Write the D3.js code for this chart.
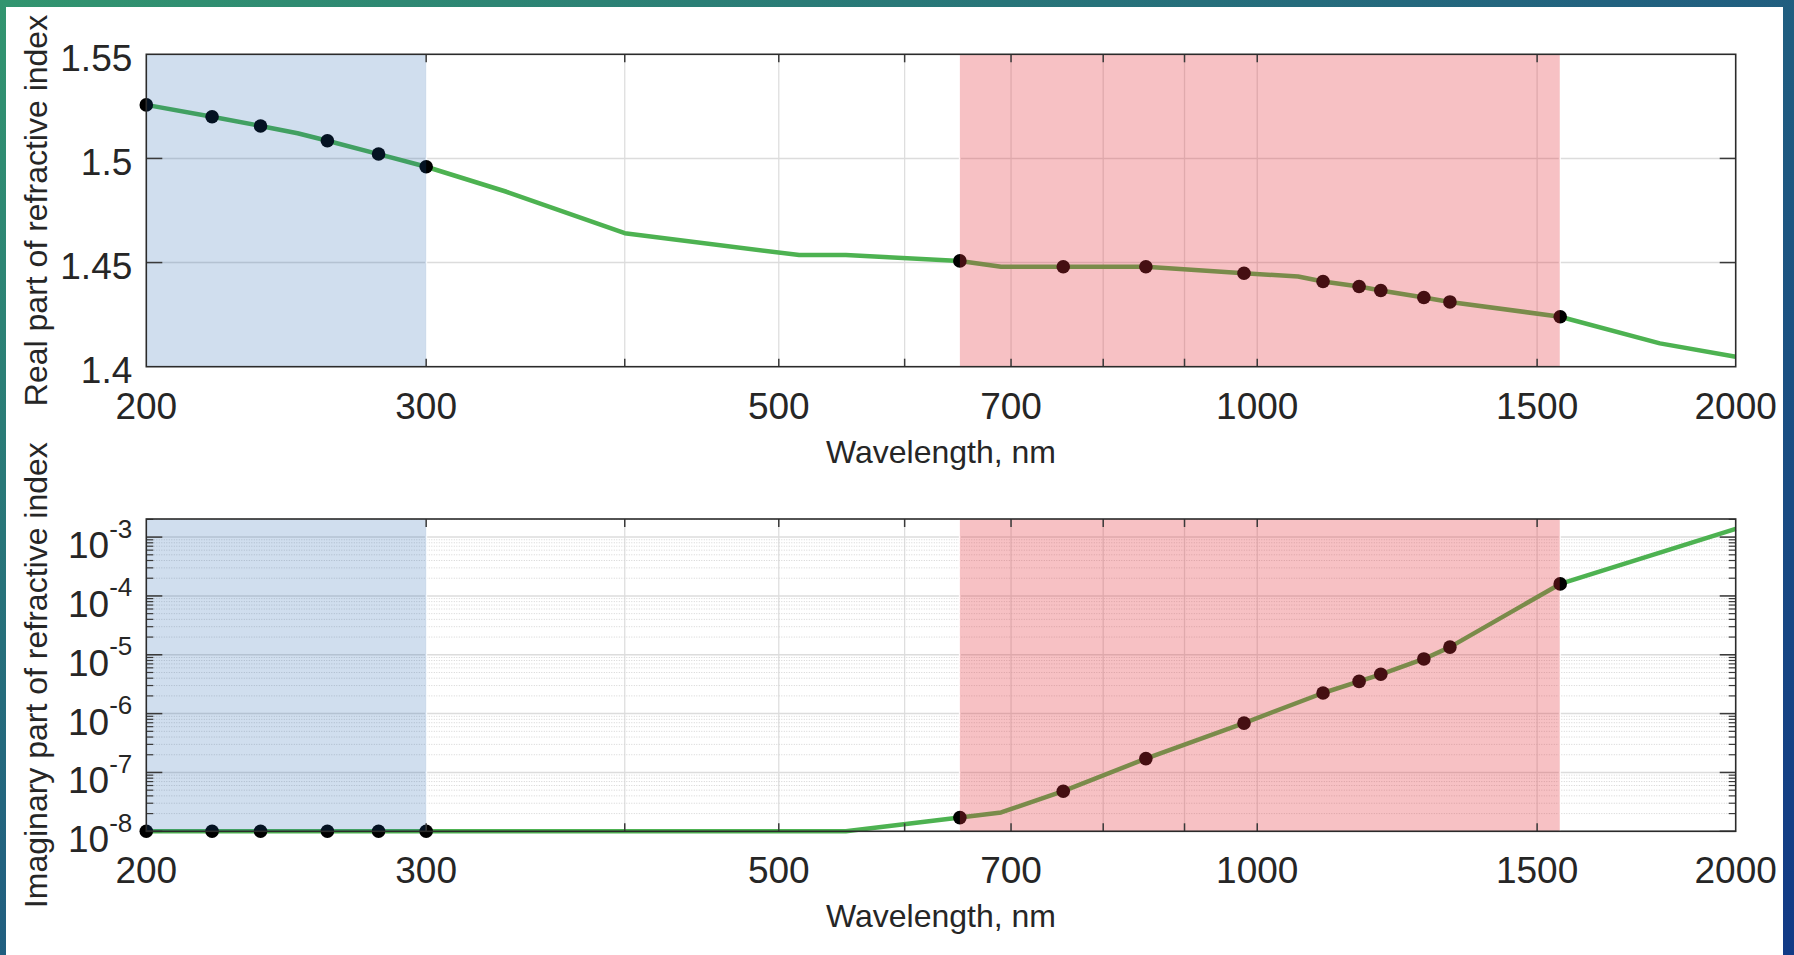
<!DOCTYPE html>
<html>
<head>
<meta charset="utf-8">
<script src="https://cdn.jsdelivr.net/npm/d3@7"></script>
<style>
  body { margin: 0; overflow: hidden; background: #fff; }
  text { font-family: "Liberation Sans", Arial, sans-serif; fill: #262626; }
</style>
</head>
<body>
<svg id="chart"></svg>
<script>
// line vertices, real part
const realWl = [200, 220, 236, 249, 260, 280, 300, 337, 400, 515, 551, 650, 690, 755, 851, 981, 1061, 1100, 1159, 1196, 1273, 1322, 1551, 1792, 2000];
const realN = [1.5257, 1.5200, 1.5156, 1.5121, 1.5085, 1.5021, 1.4960, 1.4840, 1.4641, 1.4536, 1.4536, 1.4508, 1.4480, 1.4480, 1.4480, 1.4449, 1.4433, 1.4409, 1.4385, 1.4366, 1.4332, 1.4311, 1.4240, 1.4112, 1.4048];

// line vertices, imaginary part
const imagWl = [200, 300, 551, 650, 690, 755, 851, 981, 1100, 1159, 1196, 1273, 1322, 1551, 2000];
const imagK = [1e-8, 1e-8, 1e-8, 1.71e-8, 2.09e-8, 4.8e-8, 1.72e-7, 6.9e-7, 2.24e-6, 3.53e-6, 4.66e-6, 8.5e-6, 1.35e-5, 1.6e-4, 1.38e-3];

// measured points (markers)
const markerWl = [200, 220, 236, 260, 280, 300, 650, 755, 851, 981, 1100, 1159, 1196, 1273, 1322, 1551];
const markerN = [1.5257, 1.5200, 1.5156, 1.5085, 1.5021, 1.4960, 1.4508, 1.4480, 1.4480, 1.4449, 1.4409, 1.4385, 1.4366, 1.4332, 1.4311, 1.4240];
const markerK = [1e-8, 1e-8, 1e-8, 1e-8, 1e-8, 1e-8, 1.71e-8, 4.8e-8, 1.72e-7, 6.9e-7, 2.24e-6, 3.53e-6, 4.66e-6, 8.5e-6, 1.35e-5, 1.6e-4];

// axes
const xTickLabels = [200, 300, 500, 700, 1000, 1500, 2000];
const xGridValues = [300, 400, 500, 600, 700, 800, 900, 1000, 1500];
const realTicks = [1.4, 1.45, 1.5, 1.55];
const imagExponents = [-8, -7, -6, -5, -4, -3];

// highlighted bands (nm)
const uvBand = [200, 300];
const nirBand = [650, 1550];

const W = 1794, H = 955;
const plotLeft = 146.3, plotRight = 1735.7;
const topPanel = { top: 54.3, bottom: 366.7 };
const botPanel = { top: 519, bottom: 831.3 };

var svg = d3.select('#chart').attr('width', W).attr('height', H);

// background
var defs = svg.append('defs');
var grad = defs.append('linearGradient').attr('id', 'bg')
    .attr('x1', 0).attr('y1', 0).attr('x2', 1).attr('y2', 1);
grad.append('stop').attr('offset', 0).attr('stop-color', '#32956f');
grad.append('stop').attr('offset', 0.45).attr('stop-color', '#22627f');
grad.append('stop').attr('offset', 1).attr('stop-color', '#123a86');
svg.append('rect').attr('width', W).attr('height', H).attr('fill', 'url(#bg)');
svg.append('rect').attr('x', 6).attr('y', 7).attr('width', 1777).attr('height', H - 7).attr('fill', '#fff');

var x = d3.scaleLog().domain([200, 2000]).range([plotLeft, plotRight]);
var yReal = d3.scaleLinear().domain([1.4, 1.55]).range([topPanel.bottom, topPanel.top]);
var yImag = d3.scaleLog().domain([1e-8, 2.03e-3]).range([botPanel.bottom, botPanel.top]);

var imagMajor = imagExponents.map(e => Math.pow(10, e));
var imagMinor = [];
imagExponents.forEach(function(e) {
    for (var m = 2; m <= 9; m++) {
        var v = m * Math.pow(10, e);
        if (v < 2.03e-3) imagMinor.push(v);
    }
});

function drawPanel(panel, y, lineWl, lineVals, markVals, yMajor, yMinor) {
    var g = svg.append('g');
    var h = panel.bottom - panel.top;

    // grid
    g.selectAll('.vgrid').data(xGridValues).enter().append('line')
        .attr('x1', d => x(d)).attr('x2', d => x(d))
        .attr('y1', panel.top).attr('y2', panel.bottom)
        .attr('stroke', '#dedede').attr('stroke-width', 1.3);
    g.selectAll('.hminor').data(yMinor).enter().append('line')
        .attr('x1', plotLeft).attr('x2', plotRight)
        .attr('y1', d => y(d)).attr('y2', d => y(d))
        .attr('stroke', '#d4d4d4').attr('stroke-width', 1)
        .attr('stroke-dasharray', '1,1.5');
    g.selectAll('.hgrid').data(yMajor).enter().append('line')
        .attr('x1', plotLeft).attr('x2', plotRight)
        .attr('y1', d => y(d)).attr('y2', d => y(d))
        .attr('stroke', '#dcdcdc').attr('stroke-width', 1.5);

    // white edges of the bands
    g.selectAll('.edge').data([uvBand[1], nirBand[0], nirBand[1]]).enter().append('line')
        .attr('x1', d => x(d)).attr('x2', d => x(d))
        .attr('y1', panel.top).attr('y2', panel.bottom)
        .attr('stroke', '#fff').attr('stroke-width', 2);

    // data line + markers
    var line = d3.line().x(d => x(d[0])).y(d => y(d[1]));
    g.append('path').datum(lineWl.map((d, i) => [d, lineVals[i]]))
        .attr('d', line).attr('fill', 'none')
        .attr('stroke', '#4db251').attr('stroke-width', 4.5)
        .attr('stroke-linejoin', 'round');
    g.selectAll('.dot').data(markerWl.map((d, i) => [d, markVals[i]])).enter().append('circle')
        .attr('cx', d => x(d[0])).attr('cy', d => y(d[1])).attr('r', 6.8)
        .attr('fill', '#000');

    // translucent bands on top of the data
    g.append('rect')
        .attr('x', x(uvBand[0])).attr('width', x(uvBand[1]) - x(uvBand[0]))
        .attr('y', panel.top).attr('height', h)
        .attr('fill', 'rgb(20,90,170)').attr('fill-opacity', 0.2);
    g.append('rect')
        .attr('x', x(nirBand[0])).attr('width', x(nirBand[1]) - x(nirBand[0]))
        .attr('y', panel.top).attr('height', h)
        .attr('fill', 'rgb(230,50,60)').attr('fill-opacity', 0.3);

    // ticks
    var tickCol = '#3a3a3a';
    xGridValues.forEach(function(v) {
        g.append('line').attr('x1', x(v)).attr('x2', x(v))
            .attr('y1', panel.bottom).attr('y2', panel.bottom - 8)
            .attr('stroke', tickCol).attr('stroke-width', 1.5);
        g.append('line').attr('x1', x(v)).attr('x2', x(v))
            .attr('y1', panel.top).attr('y2', panel.top + 8)
            .attr('stroke', tickCol).attr('stroke-width', 1.5);
    });
    yMajor.forEach(function(v) {
        g.append('line').attr('x1', plotLeft).attr('x2', plotLeft + 16)
            .attr('y1', y(v)).attr('y2', y(v)).attr('stroke', tickCol).attr('stroke-width', 1.5);
        g.append('line').attr('x1', plotRight).attr('x2', plotRight - 16)
            .attr('y1', y(v)).attr('y2', y(v)).attr('stroke', tickCol).attr('stroke-width', 1.5);
    });
    yMinor.forEach(function(v) {
        g.append('line').attr('x1', plotLeft).attr('x2', plotLeft + 7)
            .attr('y1', y(v)).attr('y2', y(v)).attr('stroke', tickCol).attr('stroke-width', 1.2);
        g.append('line').attr('x1', plotRight).attr('x2', plotRight - 7)
            .attr('y1', y(v)).attr('y2', y(v)).attr('stroke', tickCol).attr('stroke-width', 1.2);
    });

    // box
    g.append('rect').attr('x', plotLeft).attr('y', panel.top)
        .attr('width', plotRight - plotLeft).attr('height', h)
        .attr('fill', 'none').attr('stroke', '#2b2b2b').attr('stroke-width', 1.6);

    // x tick labels + title
    g.selectAll('.xl').data(xTickLabels).enter().append('text')
        .attr('x', d => x(d)).attr('y', panel.bottom + 52)
        .attr('text-anchor', 'middle').style('font-size', '37px')
        .text(d => d);
    g.append('text').attr('x', (plotLeft + plotRight) / 2).attr('y', panel.bottom + 96)
        .attr('text-anchor', 'middle').style('font-size', '32px')
        .text('Wavelength, nm');
    return g;
}

var gTop = drawPanel(topPanel, yReal, realWl, realN, markerN, [1.45, 1.5], []);
gTop.selectAll('.yl').data(realTicks).enter().append('text')
    .attr('x', plotLeft - 14).attr('y', d => yReal(d) + 16.3)
    .attr('text-anchor', 'end').style('font-size', '37px')
    .text(d => String(d));
gTop.append('text')
    .attr('transform', 'translate(46.5,' + (topPanel.top + topPanel.bottom) / 2 + ') rotate(-90)')
    .attr('text-anchor', 'middle').style('font-size', '32px')
    .text('Real part of refractive index');

var gBot = drawPanel(botPanel, yImag, imagWl, imagK, markerK, imagMajor, imagMinor);
var yl = gBot.selectAll('.yl').data(imagExponents).enter().append('text')
    .attr('x', plotLeft - 14).attr('y', d => yImag(Math.pow(10, d)) + 21)
    .attr('text-anchor', 'end').style('font-size', '37px');
yl.append('tspan').text('10');
yl.append('tspan').attr('dy', -20.5).style('font-size', '26px').text(d => String(d));
gBot.append('text')
    .attr('transform', 'translate(46.5,' + (botPanel.top + botPanel.bottom) / 2 + ') rotate(-90)')
    .attr('text-anchor', 'middle').style('font-size', '32px')
    .text('Imaginary part of refractive index');
</script>
</body>
</html>
